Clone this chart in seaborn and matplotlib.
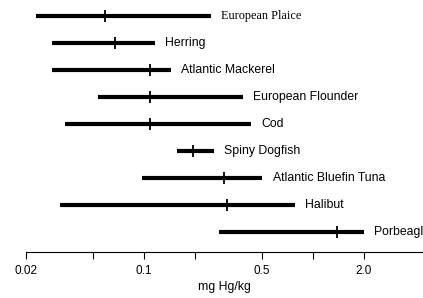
import matplotlib
matplotlib.use("Agg")
import matplotlib.pyplot as plt
import matplotlib.ticker as mticker
import seaborn as sns
import numpy as np
import pandas as pd

# ------------------------------------------------------------
# Data (mg Hg/kg): low, typical, high
# ------------------------------------------------------------
species = ["European Plaice", "Herring", "Atlantic Mackerel", "European Flounder",
           "Cod", "Spiny Dogfish", "Atlantic Bluefin Tuna", "Halibut", "Porbeagle"]
low = [0.0229, 0.0285, 0.0285, 0.0533, 0.034, 0.157, 0.097, 0.0318, 0.277]
mid = [0.0586, 0.0673, 0.108, 0.108, 0.108, 0.195, 0.297, 0.309, 1.38]
high = [0.249, 0.116, 0.144, 0.385, 0.429, 0.259, 0.50, 0.78, 2.0]

major_ticks = [0.02, 0.1, 0.5, 2.0]
major_labels = ["0.02", "0.1", "0.5", "2.0"]
minor_ticks = [0.05, 0.2, 1.0]

df = pd.DataFrame({"species": species, "low": low, "mid": mid, "high": high})
df["y"] = np.arange(len(df))[::-1] + 1

sns.set_style("ticks")
plt.rcParams["font.family"] = ["Liberation Sans", "DejaVu Sans"]
plt.rcParams["text.color"] = "black"
plt.rcParams["axes.labelcolor"] = "black"
plt.rcParams["xtick.color"] = "black"
plt.rcParams["axes.edgecolor"] = "black"

fig = plt.figure(figsize=(4.23, 2.98), dpi=100)
ax = fig.add_axes([0.0615, 0.154, 0.9385, 0.846])

ax.hlines(df["y"], df["low"], df["high"], color="black", linewidth=3.0)
sns.scatterplot(data=df, x="mid", y="y", marker="|", s=75, color="black",
                linewidth=1.3, ax=ax, legend=False)

for _, r in df.iterrows():
    fam = ["Liberation Serif"] if r["species"] == "European Plaice" else ["Liberation Sans"]
    ax.annotate(r["species"], xy=(r["high"], r["y"]), xytext=(7.5, 0),
                textcoords="offset points", va="center", ha="left",
                fontsize=8.8, family=fam, color="black", annotation_clip=False)

ax.set_xscale("log")
ax.set_xlim(0.02, 4.47)
ax.set_ylim(0.26, 9.59)

ax.xaxis.set_major_locator(mticker.FixedLocator(major_ticks))
ax.xaxis.set_major_formatter(mticker.FixedFormatter(major_labels))
ax.xaxis.set_minor_locator(mticker.FixedLocator(minor_ticks))
ax.xaxis.set_minor_formatter(mticker.NullFormatter())
ax.tick_params(axis="x", which="both", length=5, width=0.8, direction="out",
               labelsize=8.5, pad=4.5, colors="black")
ax.set_yticks([])
ax.set_ylabel("")
ax.set_xlabel("mg Hg/kg", fontsize=8.8, labelpad=3)

sns.despine(ax=ax, left=True, top=True, right=True)
ax.spines["bottom"].set_linewidth(0.8)

fig.savefig("out.png", dpi=100)
